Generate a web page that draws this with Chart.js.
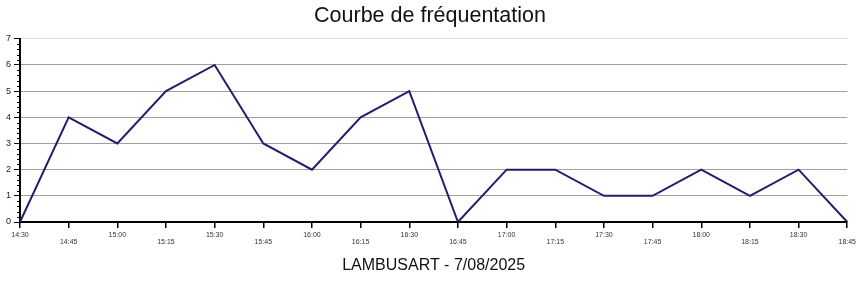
<!DOCTYPE html>
<html>
<head>
<meta charset="utf-8">
<script src="https://cdn.jsdelivr.net/npm/chart.js@4/dist/chart.umd.min.js"></script>
<style>
  html, body { margin: 0; padding: 0; background: #fff; }
  #wrap { width: 860px; height: 284px; }
</style>
</head>
<body>
<div id="wrap"><canvas id="chart"></canvas></div>
<script>
const heures = ['14:30', '14:45', '15:00', '15:15', '15:30', '15:45', '16:00', '16:15', '16:30',
    '16:45', '17:00', '17:15', '17:30', '17:45', '18:00', '18:15', '18:30', '18:45'];
const visiteurs = [0, 4, 3, 5, 6, 3, 2, 4, 5, 0, 2, 2, 1, 1, 2, 1, 2, 0];
const yMax = 7;

// petites graduations sur l'axe Y (5 par unité)
const minorTicks = {
    id: 'minorTicks',
    afterDraw(c) {
        const y = c.scales.y;
        const ctx = c.ctx;
        ctx.save();
        ctx.strokeStyle = '#000';
        ctx.lineWidth = 1;
        for (let i = 0; i <= yMax * 5; i++) {
            if (i % 5 === 0) continue;
            const py = Math.round(y.getPixelForValue(i / 5)) + 0.5;
            ctx.beginPath();
            ctx.moveTo(y.right - 3, py);
            ctx.lineTo(y.right, py);
            ctx.stroke();
        }
        ctx.restore();
    }
};

const chart = document.querySelector('#chart').getContext('2d');
new Chart(chart, {
    type: 'line',
    data: {
        labels: heures,
        datasets: [{
            label: 'Fréquentation',
            data: visiteurs,
            borderColor: '#1f1f6b',
            borderWidth: 2,
            pointRadius: 0,
            tension: 0,
            fill: false
        }]
    },
    options: {
        responsive: true,
        maintainAspectRatio: false,
        animation: false,
        plugins: {
            legend: { display: false },
            tooltip: { enabled: false },
            title: {
                display: true,
                text: 'Courbe de fréquentation',
                color: '#111',
                font: { family: 'Liberation Sans', size: 21.5, weight: 'normal' },
                padding: { top: 3, bottom: 10 }
            }
        },
        scales: {
            x: {
                offset: false,
                border: { color: '#000', width: 2 },
                grid: { drawOnChartArea: false, color: '#000', tickColor: '#000', tickLength: 6, lineWidth: 1.5 },
                ticks: {
                    autoSkip: false,
                    maxRotation: 0,
                    color: '#333',
                    padding: 4,
                    font: { family: 'Liberation Sans', size: 7, lineHeight: 1 },
                    callback: (v, i) => i % 2 ? ['', heures[i]] : heures[i]
                },
                title: {
                    display: true,
                    text: 'LAMBUSART - 7/08/2025',
                    color: '#111',
                    font: { family: 'Liberation Sans', size: 16, weight: 'normal' },
                    padding: { top: 0, bottom: 9 }
                },
                afterFit: s => { s.height = 62; }
            },
            y: {
                min: 0,
                max: yMax,
                border: { color: '#000', width: 2 },
                grid: {
                    color: ctx => ctx.tick.value === 0 ? 'rgba(0,0,0,0)' : (ctx.tick.value === yMax ? '#ddd' : '#a0a0a0'),
                    tickColor: '#000',
                    tickLength: 6,
                    lineWidth: 1
                },
                ticks: {
                    stepSize: 1,
                    color: '#222',
                    padding: 3,
                    font: { family: 'Liberation Sans', size: 9 }
                },
                afterFit: s => { s.width = 20; }
            }
        }
    },
    plugins: [minorTicks]
});
</script>
</body>
</html>
